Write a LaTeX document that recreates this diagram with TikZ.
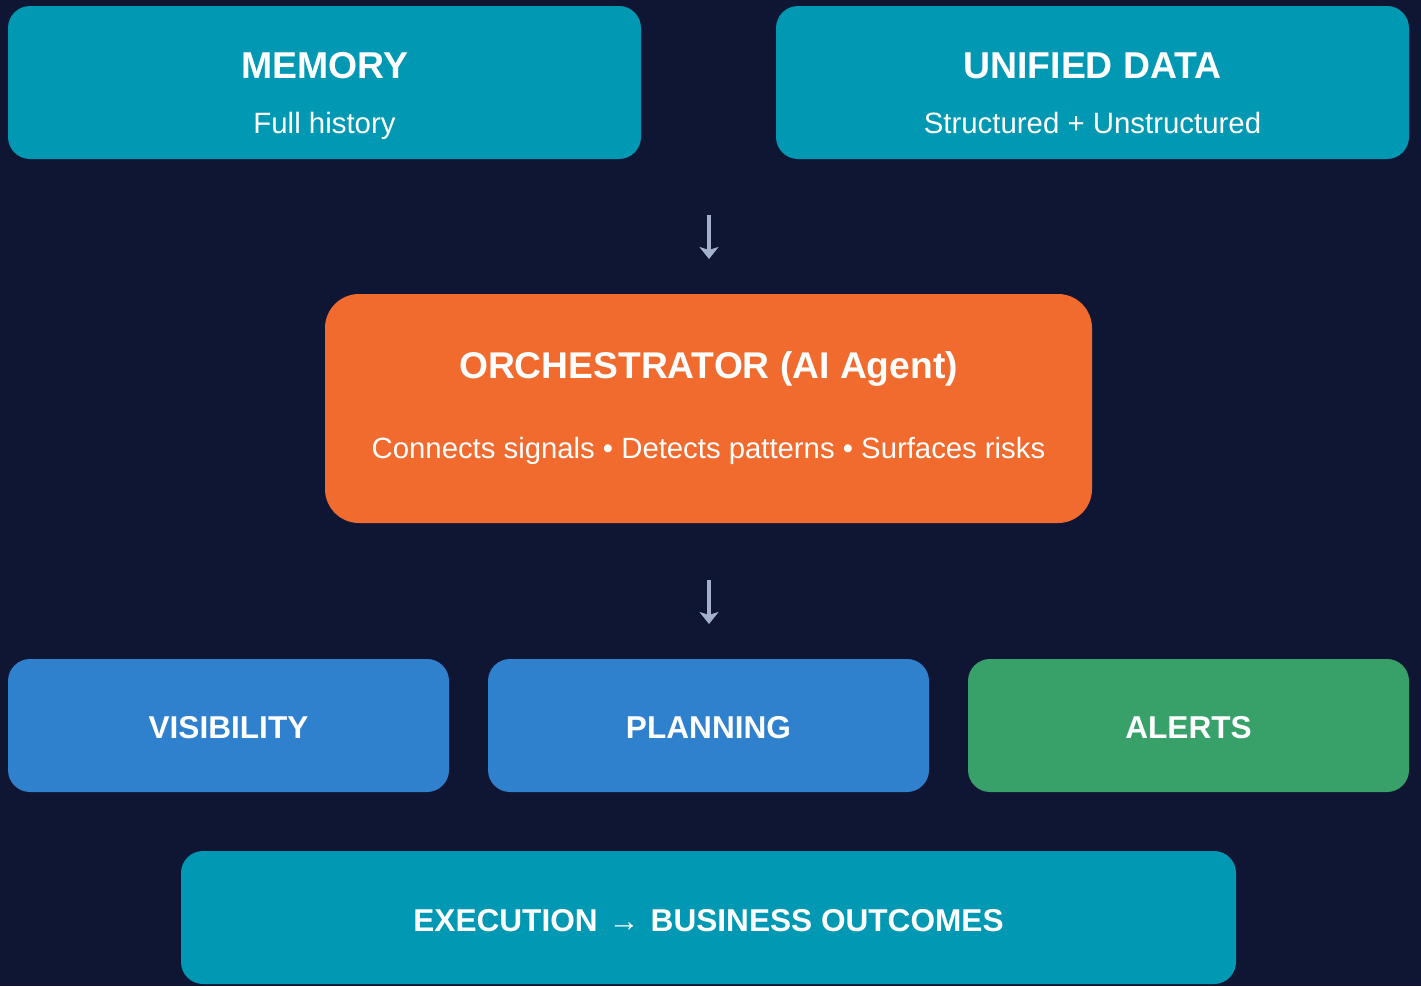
\documentclass[tikz,border=0pt]{standalone}
\usepackage{fontspec}
\usetikzlibrary{arrows.meta}
\setmainfont{Liberation Sans}
\definecolor{bg}{HTML}{0F1633}
\definecolor{teal}{HTML}{0098B3}
\definecolor{orch}{HTML}{F26B2E}
\definecolor{blu}{HTML}{2F80CD}
\definecolor{grn}{HTML}{38A169}
\definecolor{arr}{HTML}{A3B1CC}
\tikzset{
  card/.style={rounded corners=22pt, draw=none},
  ttl/.style={text=white, font=\bfseries\fontsize{37.4}{42}\selectfont, anchor=base, inner sep=0pt},
  sub/.style={text=white, font=\fontsize{29.4}{34}\selectfont, anchor=base, inner sep=0pt},
  lbl/.style={text=white, font=\bfseries\fontsize{31.6}{36}\selectfont, anchor=base, inner sep=0pt},
  darr/.style={draw=arr, line width=3.4pt, -{Stealth[width=19pt,length=12pt,inset=3pt]}}
}
\begin{document}
\begin{tikzpicture}[x=1pt,y=-1pt]
\fill[bg] (0,0) rectangle (1421,986);
\useasboundingbox (0,0) rectangle (1421,986);
% top cards
\fill[teal,card] (8,6) rectangle (641,159);
\fill[teal,card] (776,6) rectangle (1409,159);
\node[ttl] (memt) at (324.5,78) {MEMORY};
\node[sub] (mems) at (324.5,133) {Full history};
\node[ttl] (unit) at (1092.5,78) {UNIFIED DATA};
\node[sub] (unis) at (1092.5,133) {Structured + Unstructured};
% arrow 1
\coordinate (a1s) at (709,215);
\coordinate (a1e) at (709,259);
\draw[darr] (a1s) -- (a1e);
% orchestrator
\fill[orch,rounded corners=34pt] (325,294) rectangle (1092,523);
\node[ttl,font=\bfseries\fontsize{37.2}{42}\selectfont] (orct) at (708.5,378) {ORCHESTRATOR (AI Agent)};
\node[sub,font=\fontsize{29.3}{34}\selectfont] (orcs) at (708.5,458) {Connects signals • Detects patterns • Surfaces risks};
% arrow 2
\coordinate (a2s) at (709,580);
\coordinate (a2e) at (709,624);
\draw[darr] (a2s) -- (a2e);
% bottom row
\fill[blu,card] (8,659) rectangle (449,792);
\fill[blu,card] (488,659) rectangle (929,792);
\fill[grn,card] (968,659) rectangle (1409,792);
\node[lbl] (vis) at (228.5,738) {VISIBILITY};
\node[lbl] (pla) at (708.5,738) {PLANNING};
\node[lbl] (ale) at (1188.5,738) {ALERTS};
% execution
\fill[teal,card] (181,851) rectangle (1236,984);
\node[lbl] (exe) at (708.5,931) {EXECUTION\hspace{11pt}{\mdseries\fontsize{31}{36}\selectfont →}\hspace{11pt}BUSINESS OUTCOMES};
\end{tikzpicture}
\end{document}
